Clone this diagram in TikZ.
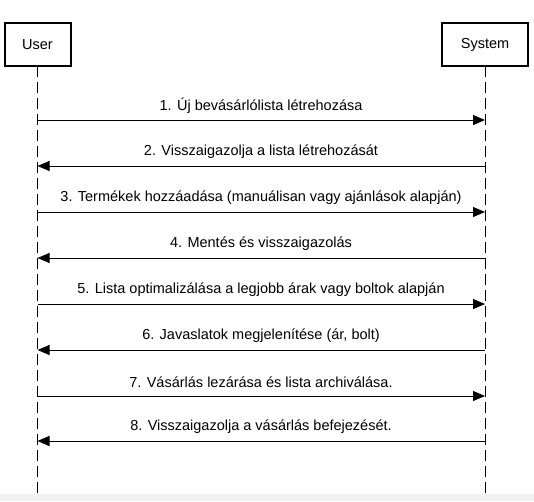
\documentclass[tikz,border=0pt]{standalone}
\usepackage{fontspec}
\setmainfont{Liberation Sans}
\usetikzlibrary{arrows.meta}
\begin{document}
\begin{tikzpicture}[x=1pt,y=-1pt,
  actor/.style={draw,line width=2pt,fill=white,minimum width=66pt,minimum height=43pt,inner sep=0pt,font=\fontsize{14.5}{17}\selectfont},
  lifeline/.style={line width=1pt,dash pattern=on 11pt off 5pt},
  msg/.style={line width=1pt,-{Triangle[length=12pt,width=10pt]}},
  lbl/.style={inner sep=0pt,font=\fontsize{14.5}{17}\selectfont}]
\useasboundingbox (0,0) rectangle (534,501);
\fill[black!5] (0,494) rectangle (534,501);
\coordinate (ub) at (37.5,493);
\coordinate (sb) at (485,493);
\draw[lifeline] (37.5,66) -- (ub);
\draw[lifeline] (485,66) -- (sb);
\node[actor] (user) at (37.5,44.5) {User};
\node[actor,minimum width=86pt] (system) at (485,44.5) {System};
\foreach \i/\y/\dir/\t in {
  1/120/r/{1. Új bevásárlólista létrehozása},
  2/166/l/{2. Visszaigazolja a lista létrehozását},
  3/212/r/{3. Termékek hozzáadása (manuálisan vagy ajánlások alapján)},
  4/258/l/{4. Mentés és visszaigazolás},
  5/304/r/{5. Lista optimalizálása a legjobb árak vagy boltok alapján},
  6/350/l/{6. Javaslatok megjelenítése (ár, bolt)},
  7/396/r/{7. Vásárlás lezárása és lista archiválása.},
  8/441/l/{8. Visszaigazolja a vásárlás befejezését.}}{
  \coordinate (u\i) at (37.5,\y);
  \coordinate (s\i) at (485,\y);
  \node[lbl] (l\i) at (261,\y-14) {\t};
  \if r\dir
    \draw[msg] (u\i) -- (s\i);
  \else
    \draw[msg] (s\i) -- (u\i);
  \fi
}
\end{tikzpicture}
\end{document}
